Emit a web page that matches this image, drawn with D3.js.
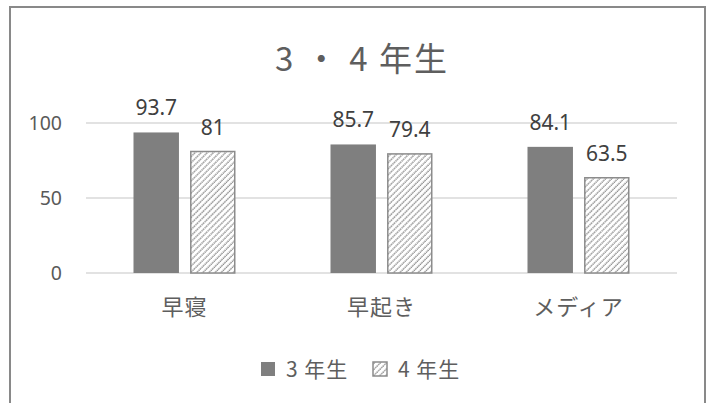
<!DOCTYPE html>
<html>
<head>
<meta charset="utf-8">
<script src="https://cdn.jsdelivr.net/npm/d3@7"></script>
<style>
  html, body { margin: 0; padding: 0; background: #fff; }
  svg { display: block; }
  text { font-family: "Noto Sans CJK JP", "Noto Sans", sans-serif; }
</style>
</head>
<body>
<svg id="chart" width="710" height="403"></svg>
<script>
// Chart data
const title = "3 ・ 4 年生";
const categories = ["早寝", "早起き", "メディア"];
const seriesNames = ["3 年生", "4 年生"];
const grade3 = [93.7, 85.7, 84.1];
const grade4 = [81, 79.4, 63.5];
const yTicks = [0, 50, 100];

const svg = d3.select("#chart");
const plot = { left: 86, right: 677, top: 50, bottom: 273 };

// Hatch pattern for the second series
const defs = svg.append("defs");
const pat = defs.append("pattern")
  .attr("id", "hatch")
  .attr("patternUnits", "userSpaceOnUse")
  .attr("width", 4.3).attr("height", 4.3)
  .attr("patternTransform", "rotate(45)");
pat.append("rect").attr("width", 4.3).attr("height", 4.3).attr("fill", "#fff");
pat.append("line")
  .attr("x1", 1).attr("y1", 0).attr("x2", 1).attr("y2", 4.3)
  .attr("stroke", "#7a7a7a").attr("stroke-width", 1.2)
  .attr("stroke-dasharray", "1.6 0.55");

// Outer frame
svg.append("rect")
  .attr("x", 10).attr("y", 7).attr("width", 695).attr("height", 420)
  .attr("fill", "#fff").attr("stroke", "#898989").attr("stroke-width", 2);

// Scales
const y = d3.scaleLinear().domain([0, 148.67]).range([plot.bottom, plot.top]);
const x0 = d3.scaleBand().domain(categories).range([plot.left, plot.right]).padding(0);
const clusterW = x0.bandwidth() * 102 / 197;
const x1 = d3.scaleBand().domain(seriesNames).range([0, clusterW]).paddingInner(10 / 51);

// Gridlines
svg.append("g").selectAll("line").data(yTicks).join("line")
  .attr("x1", plot.left).attr("x2", plot.right)
  .attr("y1", d => y(d)).attr("y2", d => y(d))
  .attr("stroke", "#d9d9d9").attr("stroke-width", 1.5);

// Y axis labels
const yAxis = d3.axisLeft(y).tickValues(yTicks).tickSize(0).tickPadding(0);
const gy = svg.append("g").attr("transform", `translate(62,0)`).call(yAxis);
gy.select(".domain").remove();
gy.selectAll("text")
  .attr("fill", "#595959").style("font-size", "19.5px")
  .style("font-family", "'Noto Sans', sans-serif");

// Bars
const rows = categories.map((c, i) => ({ cat: c, vals: [grade3[i], grade4[i]] }));
const groups = svg.append("g").selectAll("g").data(rows).join("g")
  .attr("transform", d => `translate(${x0(d.cat) + (x0.bandwidth() - clusterW) / 2},0)`);

groups.selectAll("rect").data(d => d.vals.map((v, j) => ({ v, s: seriesNames[j], j }))).join("rect")
  .attr("x", d => x1(d.s) + (d.j === 1 ? 0.75 : 0))
  .attr("width", d => x1.bandwidth() - (d.j === 1 ? 1.5 : 0))
  .attr("y", d => y(d.v))
  .attr("height", d => y(0) - y(d.v))
  .attr("fill", d => d.j === 0 ? "#7f7f7f" : "url(#hatch)")
  .attr("stroke", d => d.j === 0 ? "none" : "#8c8c8c")
  .attr("stroke-width", 1.5);

// Value labels
groups.selectAll("text.val").data(d => d.vals.map((v, j) => ({ v, s: seriesNames[j] }))).join("text")
  .attr("class", "val")
  .attr("x", d => x1(d.s) + x1.bandwidth() / 2)
  .attr("y", d => y(d.v) - 17)
  .attr("text-anchor", "middle")
  .attr("fill", "#404040")
  .style("font-size", "21px")
  .style("font-family", "'Noto Sans', sans-serif")
  .text(d => d.v);

// Category labels
const xAxis = d3.axisBottom(x0).tickSize(0).tickPadding(0);
const gx = svg.append("g").attr("transform", `translate(0,${plot.bottom})`).call(xAxis);
gx.select(".domain").remove();
gx.selectAll("text")
  .attr("dy", null).attr("y", 42)
  .attr("fill", "#5e5e5e").style("font-size", "22px")
  .style("letter-spacing", "1px");

// Title
svg.append("text")
  .attr("x", 362).attr("y", 71)
  .attr("text-anchor", "middle")
  .attr("fill", "#5e5e5e")
  .style("font-size", "33px")
  .style("letter-spacing", "2px")
  .text(title);

// Legend
const legend = svg.append("g");
const legendItems = [
  { name: seriesNames[0], x: 261, fill: "#7f7f7f", stroke: "none" },
  { name: seriesNames[1], x: 373, fill: "url(#hatch)", stroke: "#8c8c8c" }
];
const li = legend.selectAll("g").data(legendItems).join("g");
li.append("rect")
  .attr("x", d => d.x).attr("y", 362).attr("width", 14).attr("height", 14)
  .attr("fill", d => d.fill).attr("stroke", d => d.stroke).attr("stroke-width", 1.5);
li.append("text")
  .attr("x", d => d.x + 25).attr("y", 376.5)
  .attr("fill", "#5e5e5e")
  .style("font-size", "21px")
  .style("letter-spacing", "1px")
  .text(d => d.name);
</script>
</body>
</html>
